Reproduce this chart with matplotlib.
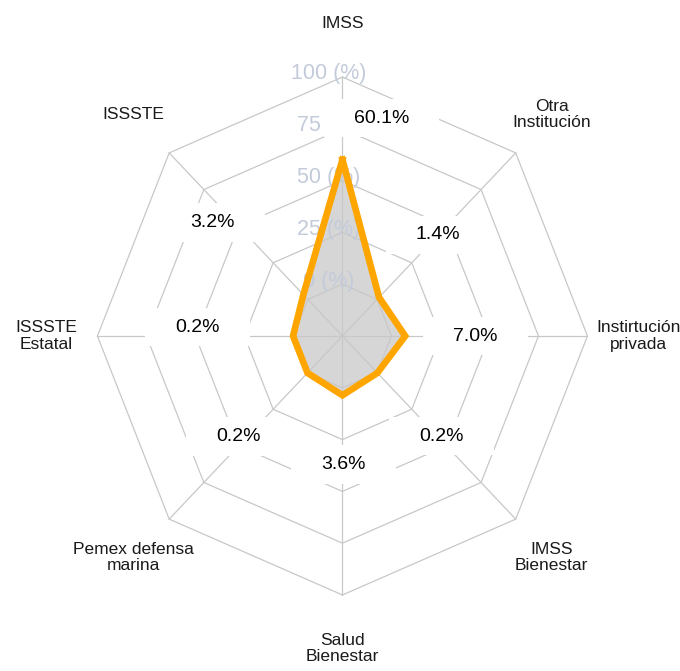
import numpy as np
import matplotlib
matplotlib.use("Agg")
import matplotlib.pyplot as plt
from matplotlib.path import Path

plt.rcParams['font.family'] = ['Liberation Sans', 'DejaVu Sans']

# data
categories = ["IMSS", "Otra\nInstitución", "Instirtución\nprivada", "IMSS\nBienestar",
              "Salud\nBienestar", "Pemex defensa\nmarina", "ISSSTE\nEstatal", "ISSSTE"]
values = [60.1, 1.4, 7.0, 0.2, 3.6, 0.2, 0.2, 3.2]
grid_levels = [0, 25, 50, 75, 100]
grid_labels = ["0 (%)", "25 (%)", "50 (%)", "75 (%)", "100 (%)"]

# layout
offset = 25          # centre sits 25 points below zero
label_r = [107, 69, 68, 70, 62, 72, 74, 86]
label_shift = [10.7, 0, 0, -1.3, -0.5, 2.7, 3.3, -5.5]
axis_label_r = 151

n = len(categories)
ang = np.arange(n) * 2 * np.pi / n


def xy(r, a):
    return r * np.sin(a), r * np.cos(a)


def wide_box(x0, y0, width, height, mutation_size):
    px = 1.55 * mutation_size
    py = 0.55 * mutation_size
    x0, y0 = x0 - px, y0 - py
    x1, y1 = x0 + width + 2 * px, y0 + height + 2 * py
    return Path([(x0, y0), (x1, y0), (x1, y1), (x0, y1), (x0, y0)], closed=True)


fig = plt.figure(figsize=(6.8, 6.71), dpi=100)
ax = fig.add_axes([0, 0, 1, 1])
ax.set_xlim(-174.7, 172.2)
ax.set_ylim(-161.7, 162.2)
ax.axis('off')

grid_col = '#c8c8c8'
a_closed = np.append(ang, ang[0])
for g in grid_levels:
    gx, gy = xy(g + offset, a_closed)
    ax.plot(gx, gy, color=grid_col, lw=0.9, zorder=2)
for a in ang:
    ex, ey = xy(100 + offset, a)
    ax.plot([0, ex], [0, ey], color=grid_col, lw=0.9, zorder=2)

for g, t in zip(grid_levels, grid_labels):
    ax.text(-7, g + offset + 1.5, t, ha='center', va='center', fontsize=15.5,
            color='#c3cbda', zorder=3)

vx, vy = xy(np.append(values, values[0]) + offset, a_closed)
ax.fill(vx, vy, color='#d6d6d6', zorder=1)
ax.plot(vx, vy, color='#FFA500', lw=4.8, zorder=4, solid_joinstyle='miter')

for v, r, s, a in zip(values, label_r, label_shift, ang):
    lx, ly = xy(r, a + np.deg2rad(s))
    ax.text(lx, ly, f"{v:.1f}%", ha='center', va='center', fontsize=14,
            color='black', zorder=5,
            bbox=dict(boxstyle=wide_box, fc='white', ec='none'))

for c, a in zip(categories, ang):
    cx, cy = xy(axis_label_r, a)
    ax.text(cx, cy, c, ha='center', va='center', fontsize=12.5,
            color='#1a1a1a', linespacing=1.1, zorder=5)

fig.savefig("out.png", dpi=100)
